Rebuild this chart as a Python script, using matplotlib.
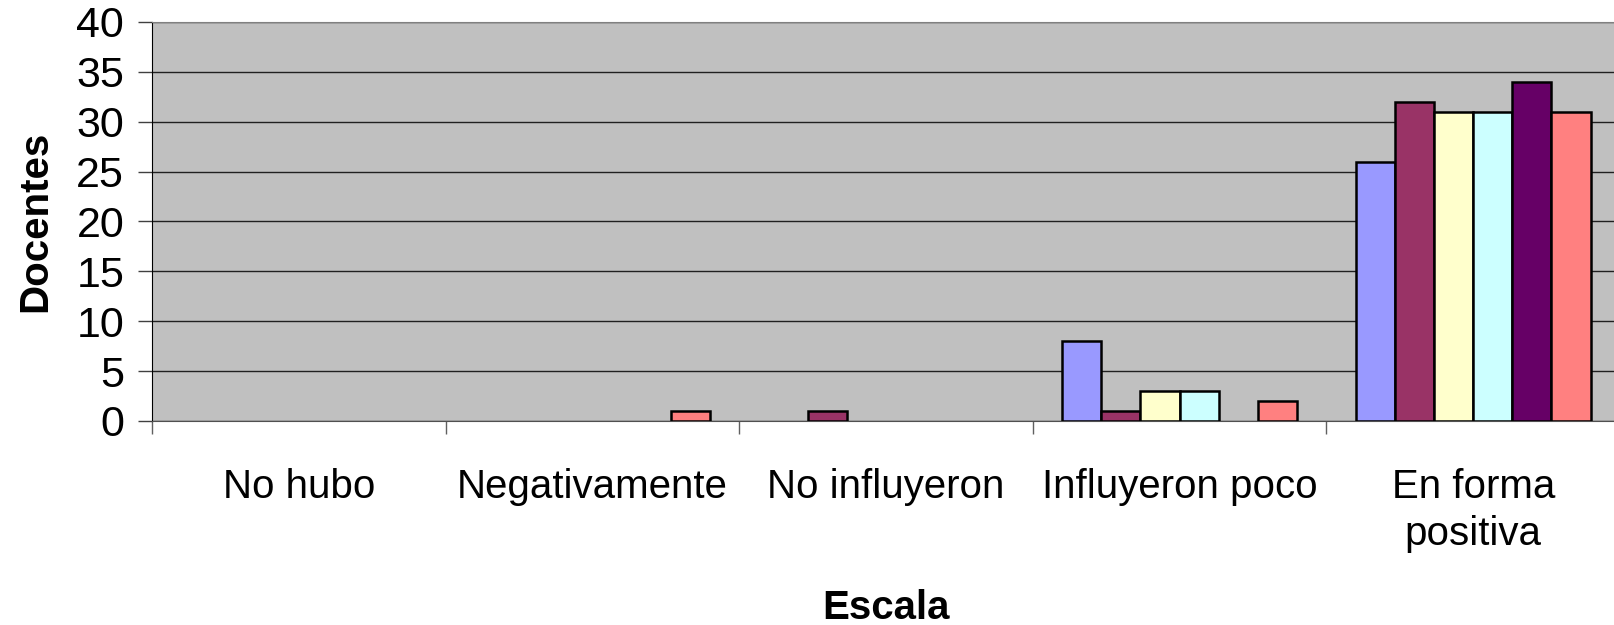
import numpy as np
import matplotlib
matplotlib.use("Agg")
import matplotlib.pyplot as plt

plt.rcParams['font.family'] = ['Liberation Sans', 'DejaVu Sans']

# datos
categorias = ['No hubo', 'Negativamente', 'No influyeron', 'Influyeron poco', 'En forma\npositiva']
serie1 = [0, 0, 0, 8, 26]
serie2 = [0, 0, 1, 1, 32]
serie3 = [0, 0, 0, 3, 31]
serie4 = [0, 0, 0, 3, 31]
serie5 = [0, 0, 0, 0, 34]
serie6 = [0, 1, 0, 2, 31]
series = [serie1, serie2, serie3, serie4, serie5, serie6]
colores = ['#9999FF', '#993366', '#FFFFCC', '#CCFFFF', '#660066', '#FF8080']
yticks = [0, 5, 10, 15, 20, 25, 30, 35, 40]

fig = plt.figure(figsize=(16.14, 6.25), dpi=100)
ax = fig.add_axes([152 / 1614, 204 / 625, 1468 / 1614, 399 / 625])
ax.set_facecolor('#C0C0C0')

x = np.arange(len(categorias))
ancho = 0.8 / len(series)
for i, (vals, col) in enumerate(zip(series, colores)):
    pos = x + (i - (len(series) - 1) / 2) * ancho
    bordes = ['black' if v > 0 else 'none' for v in vals]
    ax.bar(pos, vals, width=ancho, color=col, edgecolor=bordes, linewidth=1.8, zorder=3)

ax.set_xlim(-0.5, len(categorias) - 0.5)
ax.set_ylim(0, 40)
ax.set_yticks(yticks)
ax.yaxis.grid(True, color='#202020', linewidth=1.0, zorder=1)
ax.tick_params(axis='y', labelsize=31, length=10, width=1, pad=10, color='#404040')

# marcas en los limites de categoria, etiquetas en el centro
ax.set_xticks(np.arange(len(categorias) + 1) - 0.5)
ax.set_xticklabels([])
ax.tick_params(axis='x', which='major', length=9, width=1, color='#606060')
ax.set_xticks(x, minor=True)
ax.set_xticklabels(categorias, minor=True, fontsize=29, linespacing=1.3)
ax.tick_params(axis='x', which='minor', length=0, pad=34)

for s in ['top', 'right']:
    ax.spines[s].set_color('#808080')
ax.spines['left'].set_color('black')
ax.spines['bottom'].set_color('#505050')

ax.set_ylabel('Docentes', fontsize=29, fontweight='bold', labelpad=16)
ax.set_xlabel('Escala', fontsize=29, fontweight='bold', labelpad=26)

fig.savefig('out.png', dpi=100)
